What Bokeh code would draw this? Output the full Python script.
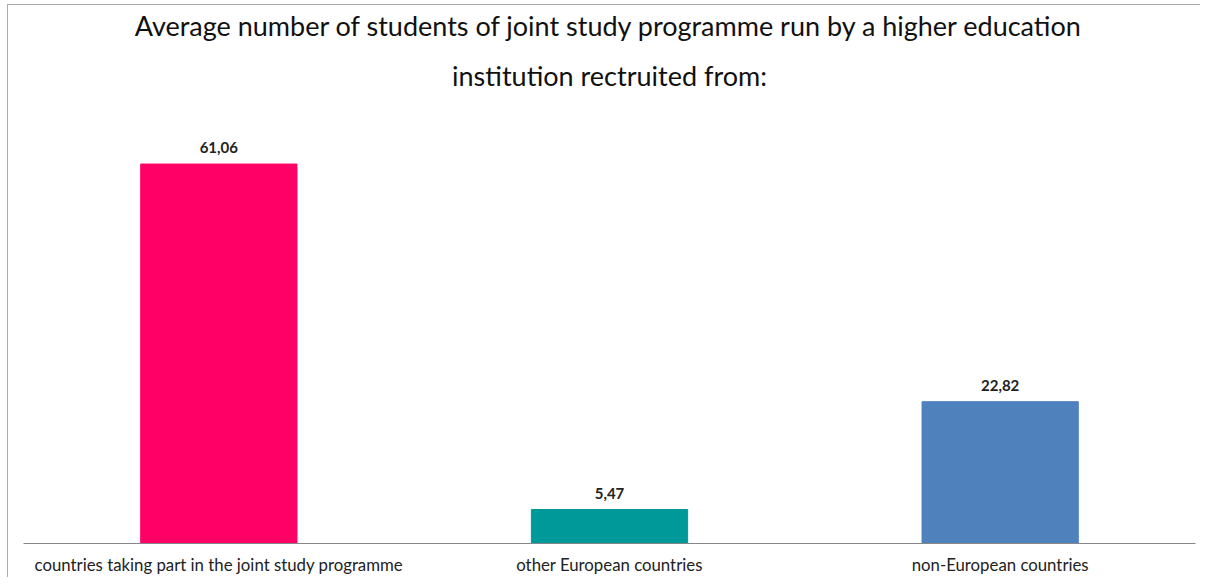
from bokeh.plotting import figure
from bokeh.models import ColumnDataSource, Range1d, LabelSet, Title
from bokeh.embed import file_html
from bokeh.resources import INLINE
from bokeh.core.properties import value

categories = ["countries taking part in the joint study programme",
              "other European countries",
              "non-European countries"]
values = [61.06, 5.47, 22.82]
value_labels = ["61,06", "5,47", "22,82"]
colors = ["#FF0066", "#009999", "#4F81BD"]
title_lines = ["Average number of students of joint study programme run by a higher education",
               "institution rectruited from:"]

FONT = "Lato"

src = ColumnDataSource(dict(cat=categories, val=values, lab=value_labels, col=colors))

p = figure(x_range=categories, y_range=Range1d(0, 70), width=1200, height=577,
           output_backend="svg", toolbar_location=None,
           min_border_left=23, min_border_right=5, min_border_top=108, min_border_bottom=34)
p.vbar(x="cat", top="val", width=0.4, color="col", source=src)

labels = LabelSet(x="cat", y="val", text="lab", source=src, text_align="center",
                  text_baseline="alphabetic", y_offset=11, text_font=value(FONT),
                  text_font_size="15px", text_font_style="bold", text_color="#222222")
p.add_layout(labels)


def style_title(t, standoff):
    t.align = "center"
    t.text_font = FONT
    t.text_font_size = "27px"
    t.text_font_style = "normal"
    t.text_color = "#111111"
    t.standoff = standoff


p.title.text = title_lines[0]
style_title(p.title, -5)
t2 = Title(text=title_lines[1])
style_title(t2, 34)
p.add_layout(t2, "above")

p.yaxis.visible = False
p.xgrid.grid_line_color = None
p.ygrid.grid_line_color = None
p.outline_line_color = None
p.xaxis.axis_line_color = "#868686"
p.xaxis.axis_line_width = 1
p.xaxis.major_tick_line_color = None
p.xaxis.minor_tick_line_color = None
p.xaxis.major_tick_out = 0
p.xaxis.major_tick_in = 0
p.xaxis.axis_label_standoff = 0
p.xaxis.major_label_text_font = FONT
p.xaxis.major_label_text_font_size = "16.8px"
p.xaxis.major_label_text_color = "#222222"
p.xaxis.major_label_standoff = 10
p.x_range.range_padding = 0

p.border_fill_alpha = 0
p.background_fill_color = "white"
p.styles = {"background": "linear-gradient(#ababab,#ababab) 7px 4px / 1px 100% no-repeat, "
                          "linear-gradient(#ababab,#ababab) 7px 4px / 100% 1px no-repeat, white"}

open("out.html", "w").write(file_html(p, INLINE))
